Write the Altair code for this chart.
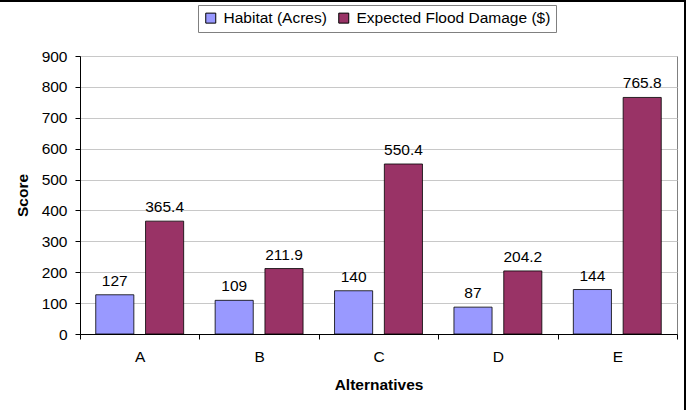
import altair as alt
import pandas as pd

alternatives = ["A", "B", "C", "D", "E"]
habitat = [127, 109, 140, 87, 144]
flood = [365.4, 211.9, 550.4, 204.2, 765.8]
series_names = ["Habitat (Acres)", "Expected Flood Damage ($)"]
colors = ["#9999FF", "#993366"]
y_ticks = [0, 100, 200, 300, 400, 500, 600, 700, 800, 900]

rows = []
for i, a in enumerate(alternatives):
    rows.append({"alt": a, "series": series_names[0], "value": habitat[i], "label": f"{habitat[i]:g}"})
    rows.append({"alt": a, "series": series_names[1], "value": flood[i], "label": f"{flood[i]:.1f}"})
df = pd.DataFrame(rows)

FONT = "Liberation Sans"
FS = 15.5

x = alt.X(
    "alt:N",
    title="Alternatives",
    sort=alternatives,
    scale=alt.Scale(paddingInner=0, paddingOuter=0),
    axis=alt.Axis(
        labelAngle=0, tickBand="extent", tickSize=5, tickColor="#000000",
        domainColor="#000000", labelPadding=10, titlePadding=13,
        labelFont=FONT, labelFontSize=FS, labelColor="#000000",
        titleFont=FONT, titleFontSize=FS, titleFontWeight="bold", titleColor="#000000",
        grid=False,
    ),
)
xoff = alt.XOffset(
    "series:N",
    sort=series_names,
    scale=alt.Scale(domain=series_names, paddingInner=0.235, paddingOuter=0.316),
)
y = alt.Y(
    "value:Q",
    title="Score",
    scale=alt.Scale(domain=[0, 900], nice=False),
    axis=alt.Axis(
        values=y_ticks, tickSize=5, tickColor="#000000", domainColor="#000000",
        labelPadding=8, titlePadding=11,
        labelFont=FONT, labelFontSize=FS, labelColor="#000000",
        titleFont=FONT, titleFontSize=FS, titleFontWeight="bold", titleColor="#000000",
        gridColor="#c8c8c8", gridWidth=1,
    ),
)
color = alt.Color(
    "series:N",
    sort=series_names,
    scale=alt.Scale(domain=series_names, range=colors),
    legend=alt.Legend(
        title=None, orient="none", legendX=118, legendY=-51, direction="horizontal",
        symbolType="square", symbolSize=100, symbolStrokeColor="#000000", symbolStrokeWidth=1,
        labelFont=FONT, labelFontSize=FS, labelColor="#000000", labelOffset=5,
        labelLimit=0, columnPadding=9, padding=5, strokeColor="#808080", fillColor="#ffffff",
    ),
)

bars = alt.Chart(df).mark_bar(stroke="#000000", strokeWidth=1, strokeOpacity=0.8).encode(
    x=x, xOffset=xoff, y=y, color=color
)
labels = alt.Chart(df).mark_text(
    font=FONT, fontSize=FS, color="#000000", baseline="alphabetic", dy=-9
).encode(x=x, xOffset=xoff, y=y, text="label:N")

border = alt.Chart(pd.DataFrame({"a": [0]})).mark_rect(
    fill=None, stroke="#000000", strokeWidth=2, clip=False
).encode(
    x=alt.value(-100), x2=alt.value(605), y=alt.value(-55), y2=alt.value(380)
)

chart = alt.layer(bars, labels, border).properties(
    width=597, height=278,
    autosize=alt.AutoSizeParams(type="none"),
    padding={"left": 80, "top": 56, "right": 10, "bottom": 76},
    background="#ffffff",
).configure_view(stroke="#808080", strokeWidth=1)

chart.save("out.html", embed_options={"renderer": "svg", "actions": False})
